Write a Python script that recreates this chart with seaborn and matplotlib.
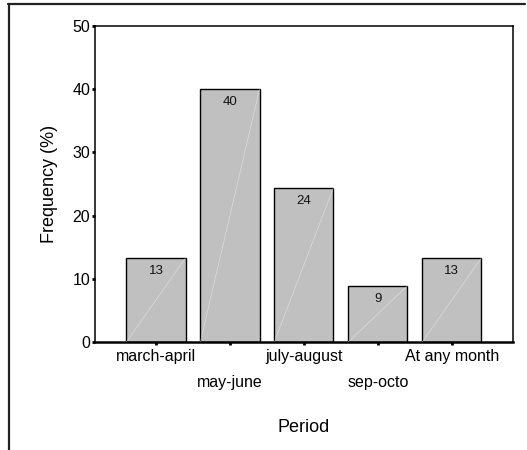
import numpy as np
import pandas as pd
import matplotlib
matplotlib.use("Agg")
import matplotlib.pyplot as plt
import seaborn as sns
from matplotlib.lines import Line2D

# data
periods = ["march-april", "may-june", "july-august", "sep-octo", "At any month"]
frequency = [13.3, 40.0, 24.4, 8.9, 13.3]
y_ticks = [0, 10, 20, 30, 40, 50]

df = pd.DataFrame({"Period": periods, "Frequency": frequency})

sns.set_style("ticks")
plt.rcParams["font.family"] = ["Liberation Sans", "DejaVu Sans"]
plt.rcParams["text.color"] = "black"
plt.rcParams["axes.labelcolor"] = "black"
plt.rcParams["xtick.color"] = "black"
plt.rcParams["ytick.color"] = "black"

fig = plt.figure(figsize=(5.27, 4.5), dpi=100)
ax = fig.add_axes([95 / 527, 1 - 342 / 450, 418 / 527, 316 / 450])

sns.barplot(data=df, x="Period", y="Frequency", color="#c0c0c0",
            saturation=1, edgecolor="black", linewidth=1, width=0.8, ax=ax)

# faint diagonal line inside each bar + value label near the top
for bar in ax.patches:
    x0, w, h = bar.get_x(), bar.get_width(), bar.get_height()
    ax.plot([x0, x0 + w], [0, h], color="white", lw=0.5, alpha=0.45, zorder=3)
    ax.annotate("{:.0f}".format(h), (x0 + w / 2, h), xytext=(0, -9.5),
                textcoords="offset points", ha="center", va="center",
                fontsize=9.5, color="#111111", zorder=4)

ax.set_ylim(0, 50)
ax.set_xlim(-0.824, 4.827)
ax.set_yticks(y_ticks)
ax.tick_params(axis="both", length=2, width=2, color="black", labelsize=11.5,
               direction="out", labelcolor="black")
ax.tick_params(axis="y", pad=1.5)

# alternate the x tick labels on two rows
for i, tick in enumerate(ax.xaxis.get_major_ticks()):
    tick.set_pad(3 if i % 2 == 0 else 21.5)

for side in ["top", "right", "left"]:
    ax.spines[side].set_visible(True)
    ax.spines[side].set_linewidth(1.1)
    ax.spines[side].set_color("black")
ax.spines["bottom"].set_linewidth(1.8)
ax.spines["bottom"].set_color("black")

ax.set_xlabel("Period", fontsize=13, color="black")
ax.set_ylabel("Frequency (%)", fontsize=13, color="black")
ax.xaxis.set_label_coords(0.5, -0.244)
ax.yaxis.labelpad = 10

# outer frame (left and top edges)
fig.add_artist(Line2D([8.5 / 527, 8.5 / 527], [0, 1 - 3.5 / 450],
                      transform=fig.transFigure, color="#222222", lw=1.6))
fig.add_artist(Line2D([8 / 527, 525 / 527], [1 - 3.5 / 450, 1 - 3.5 / 450],
                      transform=fig.transFigure, color="#222222", lw=1.6))

fig.savefig("out.png", dpi=100)
